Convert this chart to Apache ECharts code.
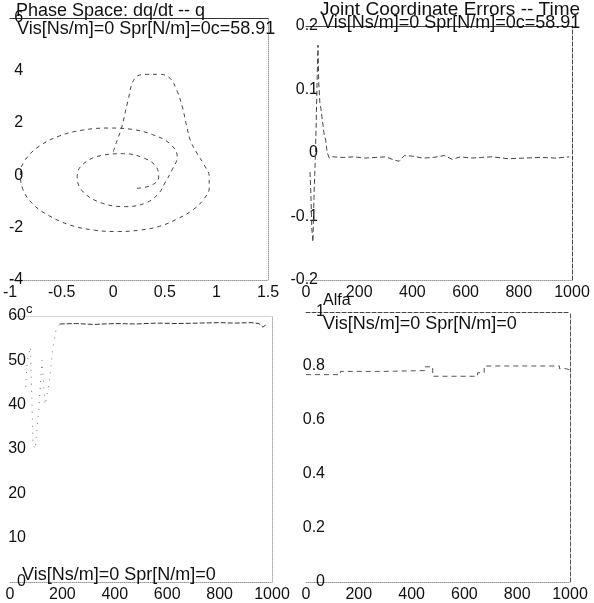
<!DOCTYPE html>
<html>
<head>
<meta charset="utf-8">
<script src="https://cdn.jsdelivr.net/npm/echarts@6/dist/echarts.min.js"></script>
<style>
html, body { margin: 0; padding: 0; background: #fff; }
#main { width: 594px; height: 603px; }
</style>
</head>
<body>
<div id="main"></div>
<script>
// phase space: q vs dq/dt
var phaseQ  = [0.0, 0.03, 0.08, 0.14, 0.21, 0.33, 0.45, 0.55, 0.62, 0.67, 0.71, 0.75, 0.81, 0.88, 0.93, 0.93, 0.88, 0.78, 0.63, 0.45, 0.25, 0.05, -0.18, -0.42, -0.62, -0.78, -0.88, -0.9, -0.85, -0.72, -0.52, -0.3, -0.05, 0.18, 0.38, 0.55, 0.62, 0.57, 0.5, 0.44, 0.32, 0.12, -0.12, -0.3, -0.35, -0.3, -0.12, 0.1, 0.3, 0.42, 0.44, 0.36, 0.22];
var phaseDq = [0.9, 1.25, 1.8, 2.8, 3.7, 3.85, 3.85, 3.7, 3.2, 2.6, 1.9, 1.3, 0.85, 0.4, -0.05, -0.5, -0.9, -1.3, -1.65, -1.95, -2.1, -2.15, -2.1, -1.9, -1.55, -1.1, -0.5, 0.1, 0.6, 1.1, 1.5, 1.72, 1.8, 1.75, 1.55, 1.2, 0.7, 0.2, -0.3, -0.7, -1.05, -1.2, -1.05, -0.6, -0.05, 0.4, 0.75, 0.82, 0.65, 0.3, -0.1, -0.4, -0.5];

// joint coordinate errors -- time
var errT = [15, 18, 22, 26, 30, 34, 38, 42, 45, 48, 52, 56, 62, 68, 74, 80, 88, 100, 140, 180, 220, 260, 300, 330, 350, 370, 400, 440, 480, 520, 550, 580, 620, 660, 700, 760, 820, 880, 940, 990];
var errV = [-0.03, -0.06, -0.12, -0.14, -0.07, -0.02, 0.04, 0.12, 0.17, 0.11, 0.08, 0.07, 0.05, 0.03, 0.02, 0.0, -0.008, -0.006, -0.007, -0.006, -0.008, -0.007, -0.006, -0.011, -0.013, -0.004, -0.005, -0.008, -0.007, -0.004, -0.01, -0.006, -0.008, -0.007, -0.006, -0.009, -0.008, -0.007, -0.008, -0.006];

// c -- time (start-up and steady part)
var cRiseT = [60, 66, 78, 88, 96, 110, 122, 134, 150, 162, 176, 190];
var cRiseV = [44, 50, 53, 31, 30, 39, 50, 40, 45, 52, 57, 58.2];
var cT = [190, 250, 320, 400, 480, 560, 640, 720, 800, 860, 920, 950, 965, 980];
var cV = [58.2, 58.3, 58.1, 58.3, 58.2, 58.4, 58.3, 58.4, 58.5, 58.4, 58.5, 58.3, 57.5, 58.1];

// Alfa -- time (stepwise)
var alfaT = [0, 80, 130, 290, 450, 480, 620, 650, 675, 960, 985, 1000];
var alfaV = [0.768, 0.768, 0.78, 0.783, 0.797, 0.762, 0.762, 0.775, 0.80, 0.79, 0.785, 0.785];

var font = 'Liberation Sans, Arial, sans-serif';

function pairs(xs, ys) {
  var out = [];
  for (var i = 0; i < xs.length; i++) out.push([xs[i], ys[i]]);
  return out;
}
// plain numbers, no thousands separator
function plain(v) { return String(Math.round(v * 1000) / 1000); }

var grids = [
  { left: 10,  top: 18,  width: 258, height: 262 },
  { left: 306, top: 26,  width: 266, height: 254 },
  { left: 10,  top: 316, width: 262, height: 269 },
  { left: 306, top: 312, width: 264, height: 276 }
];
var xr = [[-1, 1.5, 0.5], [0, 1000, 200], [0, 1000, 200], [0, 1000, 200]];
var yr = [[-4, 6, 2], [-0.2, 0.2, 0.1], [0, 60, 10], [0, 1, 0.2]];
var yMargin = [-13, -12, -16, -19];
var topLine = [
  { color: '#333', type: 'solid' },
  { color: '#444', type: 'solid' },
  { color: '#ccc', type: 'dotted' },
  { color: '#444', type: 'dashed' }
];
var rightLine = [
  { color: '#999', type: 'dotted' },
  { color: '#444', type: 'dashed' },
  { color: '#aaa', type: 'dotted' },
  { color: '#555', type: 'dashed' }
];

var xAxes = [], yAxes = [];
// bottom / left axes with labels
for (var i = 0; i < 4; i++) {
  xAxes.push({
    gridIndex: i, type: 'value', position: 'bottom',
    min: xr[i][0], max: xr[i][1], interval: xr[i][2],
    axisLine: { show: true, onZero: false, lineStyle: { color: '#999', type: 'dotted' } },
    axisTick: { show: false }, splitLine: { show: false },
    axisLabel: { color: '#111', fontSize: 16, fontFamily: font, margin: 5, formatter: plain }
  });
  yAxes.push({
    gridIndex: i, type: 'value', position: 'left',
    min: yr[i][0], max: yr[i][1], interval: yr[i][2],
    axisLine: { show: false }, axisTick: { show: false }, splitLine: { show: false },
    axisLabel: { color: '#111', fontSize: 16, fontFamily: font, margin: yMargin[i], formatter: plain }
  });
}
// top / right box lines
for (var j = 0; j < 4; j++) {
  xAxes.push({
    gridIndex: j, type: 'value', position: 'top', min: xr[j][0], max: xr[j][1],
    axisLine: { show: true, onZero: false, lineStyle: { color: topLine[j].color, type: topLine[j].type, width: 1 } },
    axisTick: { show: false }, axisLabel: { show: false }, splitLine: { show: false }
  });
  yAxes.push({
    gridIndex: j, type: 'value', position: 'right', min: yr[j][0], max: yr[j][1],
    axisLine: { show: true, onZero: false, lineStyle: { color: rightLine[j].color, type: rightLine[j].type, width: 1 } },
    axisTick: { show: false }, axisLabel: { show: false }, splitLine: { show: false }
  });
}

function txt(text, left, top, size) {
  return {
    text: text, left: left, top: top, padding: 0,
    textStyle: { color: '#111', fontSize: size, fontWeight: 'normal', fontFamily: font }
  };
}

var myChart = echarts.init(document.getElementById('main'));
myChart.setOption({
  animation: false,
  backgroundColor: '#fff',
  title: [
    txt('Phase Space: dq/dt -- q', 16, 2, 18),
    txt('Vis[Ns/m]=0 Spr[N/m]=0c=58.91', 17, 20, 18),
    txt('Joint Coordinate Errors -- Time', 320, 0, 19),
    txt('Vis[Ns/m]=0 Spr[N/m]=0c=58.91', 322, 14, 18),
    txt('c', 26, 303, 13),
    txt('Vis[Ns/m]=0 Spr[N/m]=0', 22, 566, 18),
    txt('Alfa', 323, 293, 16),
    txt('Vis[Ns/m]=0 Spr[N/m]=0', 323, 315, 18)
  ],
  grid: grids,
  xAxis: xAxes,
  yAxis: yAxes,
  series: [
    {
      type: 'line', xAxisIndex: 0, yAxisIndex: 0, smooth: 0.4, symbol: 'none',
      lineStyle: { color: '#444', width: 1, type: [4, 4] },
      data: pairs(phaseQ, phaseDq)
    },
    {
      type: 'line', xAxisIndex: 1, yAxisIndex: 1, symbol: 'none',
      lineStyle: { color: '#444', width: 1, type: [5, 3] },
      data: pairs(errT, errV)
    },
    {
      type: 'line', xAxisIndex: 2, yAxisIndex: 2, symbol: 'none',
      lineStyle: { color: '#777', width: 1, type: [1, 6] },
      data: pairs(cRiseT, cRiseV)
    },
    {
      type: 'line', xAxisIndex: 2, yAxisIndex: 2, symbol: 'none',
      lineStyle: { color: '#333', width: 1, type: [5, 2] },
      data: pairs(cT, cV)
    },
    {
      type: 'line', xAxisIndex: 3, yAxisIndex: 3, symbol: 'none', step: 'end',
      lineStyle: { color: '#555', width: 1, type: [5, 4] },
      data: pairs(alfaT, alfaV)
    }
  ]
});
</script>
</body>
</html>
